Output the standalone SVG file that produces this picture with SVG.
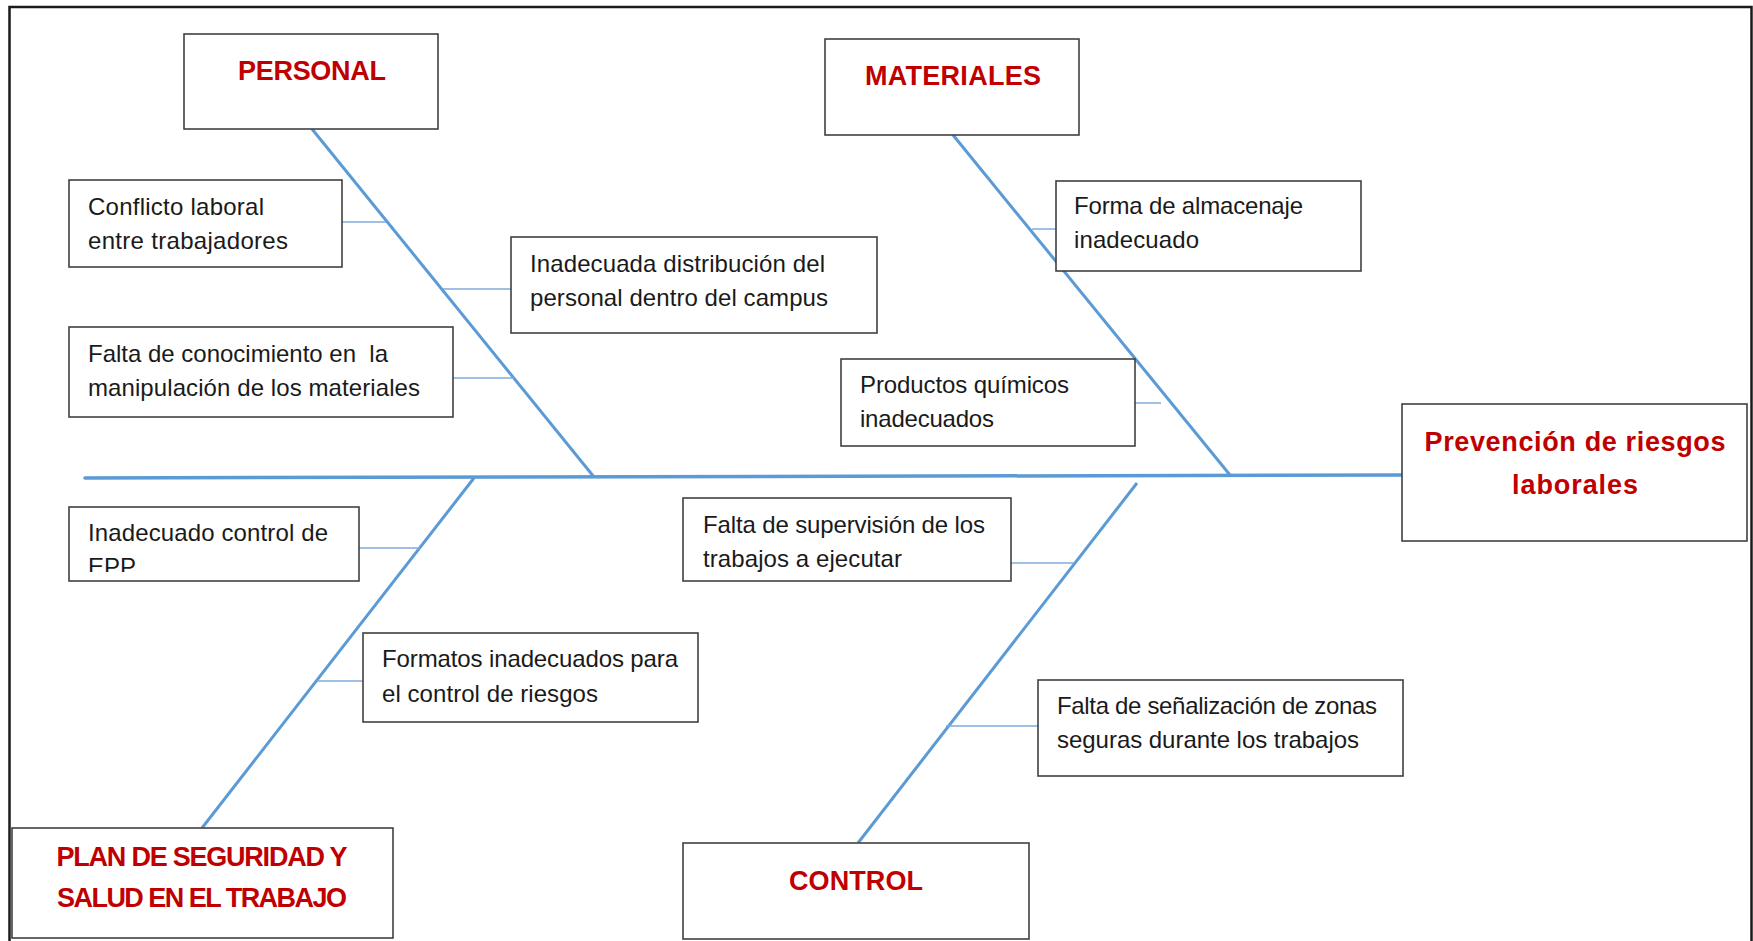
<svg xmlns="http://www.w3.org/2000/svg" width="1753" height="941" viewBox="0 0 1753 941">
<style>
.frame{fill:none;stroke:#1a1a1a;stroke-width:2.5}
.box{fill:#fff;stroke:#404040;stroke-width:1.6}
.spine{stroke:#5B9BD5;stroke-width:3.5;fill:none;stroke-linecap:round}
.bone{stroke:#5B9BD5;stroke-width:3;fill:none}
.conn{stroke:#7FAADB;stroke-width:1.5;fill:none}
.t{font-family:"Liberation Sans",Arial,sans-serif;font-size:24px;fill:#1a1a1a;white-space:pre}
.h{font-family:"Liberation Sans",Arial,sans-serif;font-weight:bold;font-size:27px;fill:#C00000;text-anchor:middle}
</style>
<defs>
<clipPath id="clipEPP"><rect x="69" y="507" width="290" height="65"/></clipPath>
</defs>
<rect class="frame" x="9.5" y="7" width="1742" height="960"/>
<g id="connectors">
<line class="spine" x1="85" y1="478" x2="1402" y2="475"/>
<line class="bone" x1="312" y1="129" x2="594" y2="477"/>
<line class="bone" x1="953" y1="135" x2="1230" y2="475"/>
<line class="bone" x1="474" y1="478" x2="202" y2="828"/>
<line class="bone" x1="1137" y1="483" x2="858" y2="843"/>
<line class="conn" x1="342" y1="222" x2="386" y2="222"/>
<line class="conn" x1="443" y1="289" x2="511" y2="289"/>
<line class="conn" x1="453" y1="378" x2="514" y2="378"/>
<line class="conn" x1="1032" y1="229" x2="1056" y2="229"/>
<line class="conn" x1="1135" y1="403" x2="1161" y2="403"/>
<line class="conn" x1="359" y1="548" x2="420" y2="548"/>
<line class="conn" x1="317" y1="681" x2="363" y2="681"/>
<line class="conn" x1="1011" y1="563" x2="1074" y2="563"/>
<line class="conn" x1="946" y1="726" x2="1038" y2="726"/>
</g>
<g id="personal">
<rect class="box" x="184" y="34" width="254" height="95"/>
<text class="h" x="312" y="80" textLength="148">PERSONAL</text>
</g>
<g id="materiales">
<rect class="box" x="825" y="39" width="254" height="96"/>
<text class="h" x="953" y="85" textLength="176">MATERIALES</text>
</g>
<g id="efecto">
<rect class="box" x="1402" y="404" width="345" height="137"/>
<text class="h" x="1575" y="451" font-size="28" textLength="301">Prevención de riesgos</text>
<text class="h" x="1575" y="494" font-size="28" textLength="126">laborales</text>
</g>
<g id="plan">
<rect class="box" x="12" y="828" width="381" height="110"/>
<text class="h" x="202" y="866" font-size="25" textLength="291">PLAN DE SEGURIDAD Y</text>
<text class="h" x="202" y="907" font-size="25" textLength="290">SALUD EN EL TRABAJO</text>
</g>
<g id="control">
<rect class="box" x="683" y="843" width="346" height="96"/>
<text class="h" x="856" y="890" textLength="134">CONTROL</text>
</g>
<g id="causa-conflicto">
<rect class="box" x="69" y="180" width="273" height="87"/>
<text class="t" x="88" y="215" textLength="176">Conflicto laboral</text>
<text class="t" x="88" y="249" textLength="200">entre trabajadores</text>
</g>
<g id="causa-distribucion">
<rect class="box" x="511" y="237" width="366" height="96"/>
<text class="t" x="530" y="272" textLength="295">Inadecuada distribución del</text>
<text class="t" x="530" y="306" textLength="298">personal dentro del campus</text>
</g>
<g id="causa-conocimiento">
<rect class="box" x="69" y="327" width="384" height="90"/>
<text class="t" x="88" y="362" textLength="300">Falta de conocimiento en  la</text>
<text class="t" x="88" y="396" textLength="332">manipulación de los materiales</text>
</g>
<g id="causa-almacenaje">
<rect class="box" x="1056" y="181" width="305" height="90"/>
<text class="t" x="1074" y="214" textLength="229">Forma de almacenaje</text>
<text class="t" x="1074" y="248" textLength="125">inadecuado</text>
</g>
<g id="causa-quimicos">
<rect class="box" x="841" y="359" width="294" height="87"/>
<text class="t" x="860" y="393" textLength="209">Productos químicos</text>
<text class="t" x="860" y="427" textLength="134">inadecuados</text>
</g>
<g id="causa-epp">
<rect class="box" x="69" y="507" width="290" height="74"/>
<text class="t" x="88" y="541" textLength="240">Inadecuado control de</text>
<text class="t" x="88" y="575" clip-path="url(#clipEPP)">EPP</text>
</g>
<g id="causa-formatos">
<rect class="box" x="363" y="633" width="335" height="89"/>
<text class="t" x="382" y="667" textLength="296">Formatos inadecuados para</text>
<text class="t" x="382" y="702" textLength="216">el control de riesgos</text>
</g>
<g id="causa-supervision">
<rect class="box" x="683" y="498" width="328" height="83"/>
<text class="t" x="703" y="533" textLength="282">Falta de supervisión de los</text>
<text class="t" x="703" y="567" textLength="199">trabajos a ejecutar</text>
</g>
<g id="causa-senalizacion">
<rect class="box" x="1038" y="680" width="365" height="96"/>
<text class="t" x="1057" y="714" textLength="320">Falta de señalización de zonas</text>
<text class="t" x="1057" y="748" textLength="302">seguras durante los trabajos</text>
</g>
</svg>
